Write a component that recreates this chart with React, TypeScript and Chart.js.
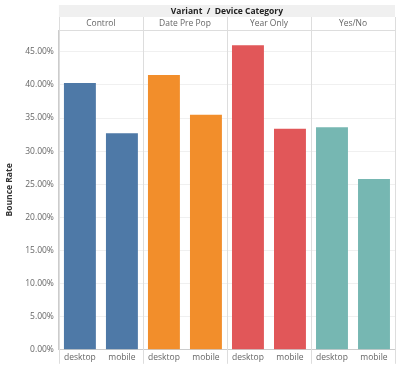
import React, { useEffect, useRef } from "react";
import { Chart, registerables } from "chart.js";

Chart.register(...registerables);

const variants = ["Control", "Date Pre Pop", "Year Only", "Yes/No"];
const devices = ["desktop", "mobile"];
const desktopRates = [40.3, 41.5, 46.0, 33.6];
const mobileRates = [32.7, 35.5, 33.4, 25.8];
const variantColors = ["#4e79a7", "#f28e2b", "#e15759", "#76b7b2"];
const yTicks = [0, 5, 10, 15, 20, 25, 30, 35, 40, 45];

const FONT = "'Open Sans', 'DejaVu Sans', sans-serif";

const headerPlugin = {
  id: "tableauHeader",
  afterDraw(chart: any) {
    const { ctx, chartArea } = chart;
    const { left, right, top, bottom } = chartArea;
    const n = variants.length;
    const w = (right - left) / n;
    const bandTop = 5;
    const bandBot = 17;
    ctx.save();
    ctx.fillStyle = "#f0f0f0";
    ctx.fillRect(left, bandTop, right - left, bandBot - bandTop);
    ctx.fillStyle = "#222";
    ctx.font = `bold 8.5px ${FONT}`;
    ctx.textAlign = "center";
    ctx.textBaseline = "middle";
    ctx.fillText("Variant  /  Device Category", (left + right) / 2, (bandTop + bandBot) / 2 + 0.5);
    ctx.strokeStyle = "#dddddd";
    ctx.lineWidth = 1;
    for (let i = 0; i <= n; i++) {
      const x = Math.round(left + w * i) + 0.5;
      ctx.beginPath();
      ctx.moveTo(x, bandBot);
      ctx.lineTo(x, bottom + 14);
      ctx.stroke();
    }
    ctx.beginPath();
    ctx.moveTo(left, Math.round(top) + 0.5);
    ctx.lineTo(right, Math.round(top) + 0.5);
    ctx.stroke();
    ctx.fillStyle = "#666";
    ctx.font = `8.5px ${FONT}`;
    for (let i = 0; i < n; i++) {
      ctx.fillText(variants[i], left + w * i + w / 2, (bandBot + top) / 2 + 0.5);
    }
    ctx.restore();
  },
};

export default function App() {
  const ref = useRef<HTMLCanvasElement>(null);
  useEffect(() => {
    const labels: string[] = [];
    const values: number[] = [];
    const colors: string[] = [];
    variants.forEach((v, i) => {
      devices.forEach((d, j) => {
        labels.push(d);
        values.push(j === 0 ? desktopRates[i] : mobileRates[i]);
        colors.push(variantColors[i]);
      });
    });
    const chart = new Chart(ref.current!, {
      type: "bar",
      data: {
        labels,
        datasets: [
          {
            data: values,
            backgroundColor: colors,
            categoryPercentage: 1,
            barPercentage: 0.76,
          },
        ],
      },
      options: {
        animation: false,
        responsive: false,
        maintainAspectRatio: false,
        layout: { padding: { top: 30, right: 4, left: 4, bottom: 0 } },
        plugins: { legend: { display: false }, tooltip: { enabled: false } },
        scales: {
          x: {
            grid: { display: false, drawTicks: false },
            border: { display: true, color: "#cccccc" },
            ticks: { color: "#666", font: { family: FONT, size: 8.5 }, padding: 3, maxRotation: 0, autoSkip: false },
          },
          y: {
            min: 0,
            max: 48.3,
            afterBuildTicks(scale: any) {
              scale.ticks = yTicks.map((v) => ({ value: v }));
            },
            grid: { color: "#f0f0f0", drawTicks: false },
            border: { display: true, color: "#cccccc" },
            ticks: {
              color: "#666",
              font: { family: FONT, size: 8.5 },
              padding: 5,
              callback: (v: any) => Number(v).toFixed(2) + "%",
            },
            title: {
              display: true,
              text: "Bounce Rate",
              color: "#333",
              font: { family: FONT, size: 8.5, weight: "bold" },
              padding: { top: 0, bottom: 6 },
            },
          },
        },
      },
      plugins: [headerPlugin],
    });
    return () => chart.destroy();
  }, []);
  return (
    <div style={{ position: "fixed", left: 0, top: 0, width: 399, height: 366, background: "#fff" }}>
      <canvas ref={ref} width={399} height={366} style={{ width: 399, height: 366 }} />
    </div>
  );
}
